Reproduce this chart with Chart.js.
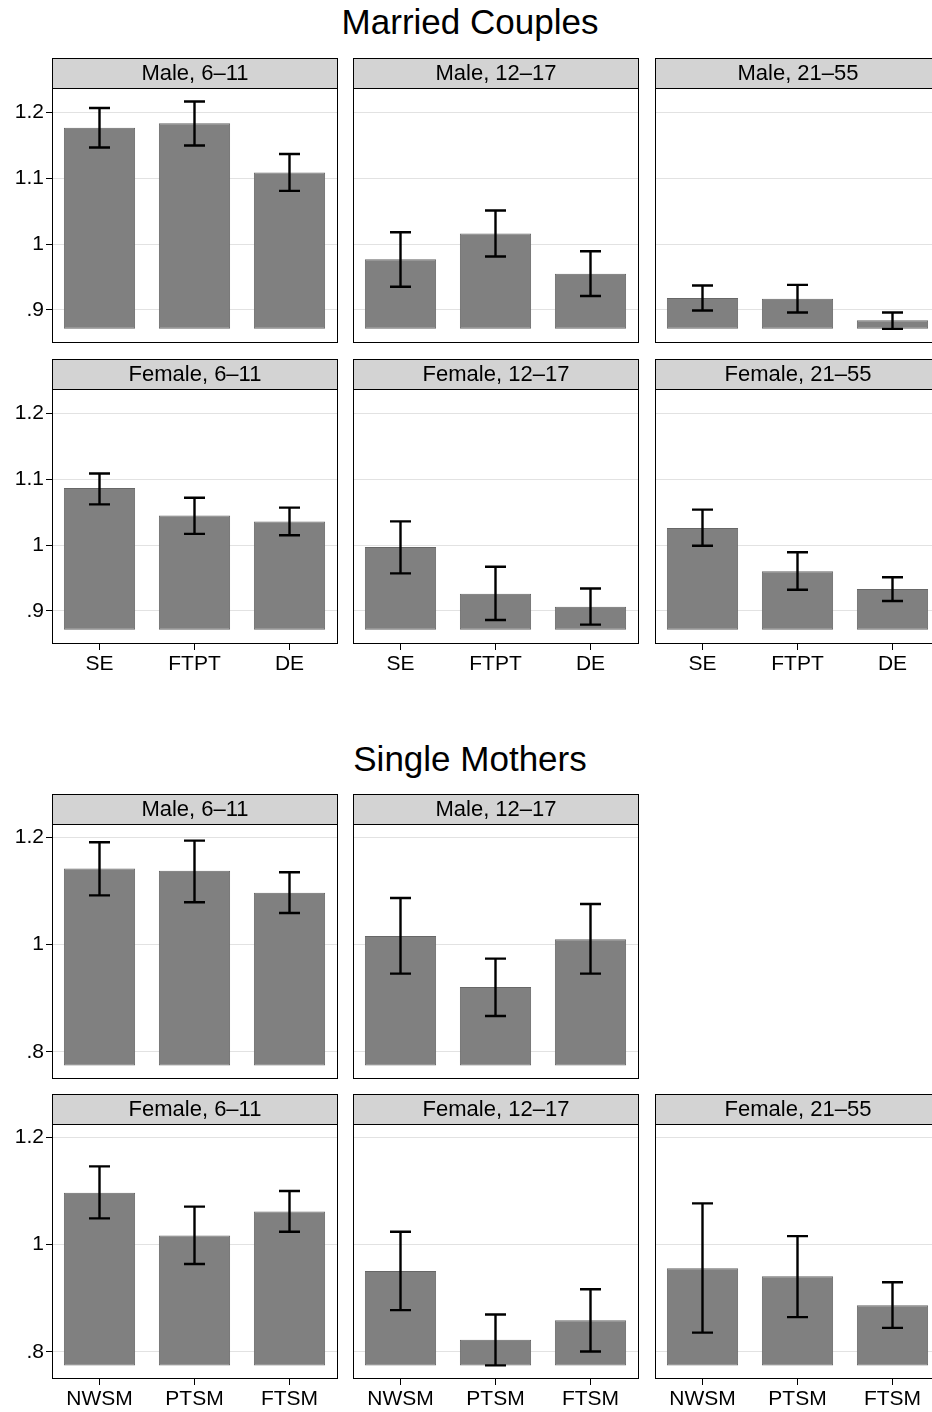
<!DOCTYPE html>
<html>
<head>
<meta charset="utf-8">
<script src="https://cdn.jsdelivr.net/npm/chart.js@4.4.1/dist/chart.umd.min.js"></script>
<style>
  body { margin: 0; width: 932px; height: 1412px; overflow: hidden; position: relative; background: #fff;
         font-family: "Liberation Sans", Arial, sans-serif; }
  .title { position: absolute; left: 0; width: 940px; text-align: center; font-size: 35px; line-height: 40px; color: #000; }
  canvas { position: absolute; }
</style>
</head>
<body>
<div class="title" style="top:2px">Married Couples</div>
<div class="title" style="top:739px">Single Mothers</div>
<script>
// categories and ticks
const marriedCats = ['SE', 'FTPT', 'DE'];
const singleCats = ['NWSM', 'PTSM', 'FTSM'];
const marriedTicks = [0.9, 1, 1.1, 1.2];
const singleTicks = [0.8, 1, 1.2];
const marriedRange = [0.851, 1.2375];
const singleRange = [0.7515, 1.225];
const marriedBase = 0.871;
const singleBase = 0.775;

// Married couples: estimate, lower CI, upper CI
const mcMale611 = [1.177, 1.184, 1.109];
const mcMale611Lo = [1.147, 1.150, 1.081];
const mcMale611Hi = [1.207, 1.217, 1.137];
const mcMale1217 = [0.977, 1.016, 0.955];
const mcMale1217Lo = [0.935, 0.981, 0.921];
const mcMale1217Hi = [1.018, 1.051, 0.989];
const mcMale2155 = [0.918, 0.917, 0.884];
const mcMale2155Lo = [0.899, 0.896, 0.871];
const mcMale2155Hi = [0.937, 0.938, 0.896];
const mcFemale611 = [1.087, 1.045, 1.036];
const mcFemale611Lo = [1.062, 1.017, 1.015];
const mcFemale611Hi = [1.109, 1.072, 1.057];
const mcFemale1217 = [0.997, 0.926, 0.906];
const mcFemale1217Lo = [0.957, 0.886, 0.879];
const mcFemale1217Hi = [1.036, 0.967, 0.934];
const mcFemale2155 = [1.026, 0.960, 0.933];
const mcFemale2155Lo = [0.999, 0.932, 0.915];
const mcFemale2155Hi = [1.054, 0.989, 0.951];

// Single mothers
const smMale611 = [1.142, 1.138, 1.097];
const smMale611Lo = [1.092, 1.079, 1.059];
const smMale611Hi = [1.191, 1.194, 1.135];
const smMale1217 = [1.016, 0.921, 1.010];
const smMale1217Lo = [0.946, 0.867, 0.946];
const smMale1217Hi = [1.087, 0.974, 1.076];
const smFemale611 = [1.097, 1.017, 1.062];
const smFemale611Lo = [1.049, 0.964, 1.024];
const smFemale611Hi = [1.146, 1.071, 1.100];
const smFemale1217 = [0.951, 0.823, 0.859];
const smFemale1217Lo = [0.878, 0.775, 0.801];
const smFemale1217Hi = [1.024, 0.870, 0.917];
const smFemale2155 = [0.956, 0.941, 0.887];
const smFemale2155Lo = [0.836, 0.865, 0.845];
const smFemale2155Hi = [1.077, 1.016, 0.930];

const FONT = "'Liberation Sans', Arial, sans-serif";
Chart.defaults.font.family = FONT;
Chart.defaults.color = '#000';

const colLeft = [52, 353, 655];
const plotW = 285;
const stripH = 30;
const plotH = 254;
const axisH = 38;

// grey header strip and black frame round each plot
const stripPlugin = {
  id: 'strip',
  afterDraw(chart, args, opts) {
    const { ctx, chartArea: a } = chart;
    const l = Math.floor(a.left) + 0.5, r = Math.floor(a.right) + 0.5;
    const t = Math.floor(a.top) + 0.5, b = Math.floor(a.bottom) + 0.5;
    ctx.save();
    ctx.fillStyle = '#d3d3d3';
    ctx.fillRect(l, 0.5, r - l, t - 0.5);
    ctx.strokeStyle = '#000';
    ctx.lineWidth = 1;
    ctx.strokeRect(l, 0.5, r - l, t - 0.5);
    ctx.strokeRect(l, t, r - l, b - t);
    ctx.fillStyle = '#000';
    ctx.font = '22px ' + FONT;
    ctx.textAlign = 'center';
    ctx.textBaseline = 'middle';
    ctx.fillText(opts.text, (l + r) / 2, t / 2 + 1);
    ctx.restore();
  }
};

const errorBarPlugin = {
  id: 'errorBars',
  afterDatasetsDraw(chart) {
    const ctx = chart.ctx;
    const y = chart.scales.y;
    chart.data.datasets.forEach((ds, i) => {
      const meta = chart.getDatasetMeta(i);
      meta.data.forEach((bar, j) => {
        const yl = y.getPixelForValue(ds.lo[j]);
        const yh = y.getPixelForValue(ds.hi[j]);
        ctx.save();
        ctx.strokeStyle = '#000';
        ctx.lineWidth = 2.4;
        ctx.beginPath();
        ctx.moveTo(bar.x, yl); ctx.lineTo(bar.x, yh);
        ctx.moveTo(bar.x - 10.5, yl); ctx.lineTo(bar.x + 10.5, yl);
        ctx.moveTo(bar.x - 10.5, yh); ctx.lineTo(bar.x + 10.5, yh);
        ctx.stroke();
        ctx.restore();
      });
    });
  }
};

function fmt(v) {
  return String(Math.round(v * 10) / 10).replace(/^0\./, '.');
}

function makePanel(p) {
  const canvas = document.createElement('canvas');
  const first = p.col === 0;
  const w = (first ? colLeft[0] : 0) + plotW + 1;
  const h = stripH + plotH + (p.showX ? axisH : 1);
  canvas.width = w;
  canvas.height = h;
  canvas.style.left = (first ? 0 : colLeft[p.col]) + 'px';
  canvas.style.top = p.top + 'px';
  document.body.appendChild(canvas);

  new Chart(canvas, {
    type: 'bar',
    data: {
      labels: p.cats,
      datasets: [{
        data: p.est.map(v => [p.base, v]),
        lo: p.lo,
        hi: p.hi,
        backgroundColor: '#808080',
        borderColor: '#676767',
        borderWidth: 1,
        borderSkipped: false,
        barPercentage: 0.75,
        categoryPercentage: 1
      }]
    },
    options: {
      responsive: false,
      animation: false,
      layout: { padding: { top: stripH, right: 1, bottom: p.showX ? 0 : 1, left: 0 } },
      plugins: {
        legend: { display: false },
        tooltip: { enabled: false },
        strip: { text: p.title }
      },
      scales: {
        x: {
          display: p.showX,
          offset: true,
          grid: { offset: false, drawOnChartArea: false, tickLength: 7, color: '#000', tickColor: '#000' },
          border: { display: false },
          ticks: { font: { size: 21 }, padding: 2, maxRotation: 0 },
          afterFit: s => { s.height = p.showX ? axisH : 0; }
        },
        y: {
          min: p.range[0],
          max: p.range[1],
          grid: { color: '#e2e2e2', lineWidth: 1, drawTicks: first, tickLength: 6, tickColor: '#000' },
          border: { display: false },
          ticks: { display: first, font: { size: 21 }, padding: 2, callback: v => fmt(v) },
          afterBuildTicks: s => { s.ticks = p.ticks.map(v => ({ value: v })); },
          afterFit: s => {
            s.width = first ? colLeft[0] : 0;
            s.paddingTop = 0;
            s.paddingBottom = 0;
          }
        }
      }
    },
    plugins: [stripPlugin, errorBarPlugin]
  });
}

const married = { cats: marriedCats, ticks: marriedTicks, range: marriedRange, base: marriedBase };
const single = { cats: singleCats, ticks: singleTicks, range: singleRange, base: singleBase };

const panels = [
  Object.assign({ col: 0, top: 58, showX: false, title: 'Male, 6–11', est: mcMale611, lo: mcMale611Lo, hi: mcMale611Hi }, married),
  Object.assign({ col: 1, top: 58, showX: false, title: 'Male, 12–17', est: mcMale1217, lo: mcMale1217Lo, hi: mcMale1217Hi }, married),
  Object.assign({ col: 2, top: 58, showX: false, title: 'Male, 21–55', est: mcMale2155, lo: mcMale2155Lo, hi: mcMale2155Hi }, married),
  Object.assign({ col: 0, top: 359, showX: true, title: 'Female, 6–11', est: mcFemale611, lo: mcFemale611Lo, hi: mcFemale611Hi }, married),
  Object.assign({ col: 1, top: 359, showX: true, title: 'Female, 12–17', est: mcFemale1217, lo: mcFemale1217Lo, hi: mcFemale1217Hi }, married),
  Object.assign({ col: 2, top: 359, showX: true, title: 'Female, 21–55', est: mcFemale2155, lo: mcFemale2155Lo, hi: mcFemale2155Hi }, married),
  Object.assign({ col: 0, top: 794, showX: false, title: 'Male, 6–11', est: smMale611, lo: smMale611Lo, hi: smMale611Hi }, single),
  Object.assign({ col: 1, top: 794, showX: false, title: 'Male, 12–17', est: smMale1217, lo: smMale1217Lo, hi: smMale1217Hi }, single),
  Object.assign({ col: 0, top: 1094, showX: true, title: 'Female, 6–11', est: smFemale611, lo: smFemale611Lo, hi: smFemale611Hi }, single),
  Object.assign({ col: 1, top: 1094, showX: true, title: 'Female, 12–17', est: smFemale1217, lo: smFemale1217Lo, hi: smFemale1217Hi }, single),
  Object.assign({ col: 2, top: 1094, showX: true, title: 'Female, 21–55', est: smFemale2155, lo: smFemale2155Lo, hi: smFemale2155Hi }, single)
];

panels.forEach(makePanel);
</script>
</body>
</html>
